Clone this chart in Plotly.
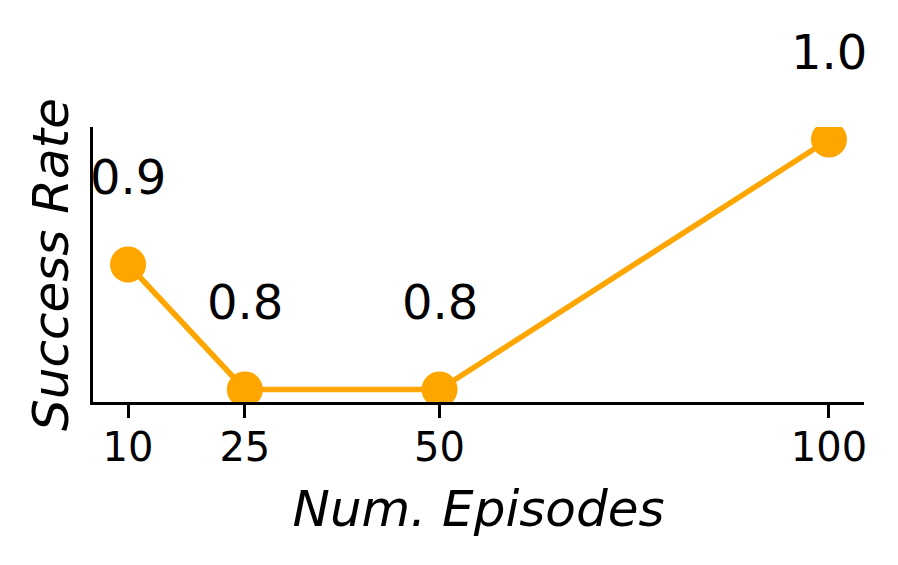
import plotly.graph_objects as go

# episodes vs success rate
episodes = [10, 25, 50, 100]
success_rate = [0.9, 0.8, 0.8, 1.0]
tick_labels = ["10", "25", "50", "100"]

ORANGE = "#FFA500"
FONT = "DejaVu Sans"

fig = go.Figure()
fig.add_trace(go.Scatter(
    x=episodes, y=success_rate,
    mode="lines+markers",
    line=dict(color=ORANGE, width=5.5),
    marker=dict(color=ORANGE, size=36),
    cliponaxis=True,
    hoverinfo="x+y",
))

# value labels above each point
for xv, yv in zip(episodes, success_rate):
    fig.add_annotation(
        x=xv, y=yv, xref="x", yref="y",
        text=f"{yv:.1f}", showarrow=False,
        yshift=88, font=dict(family=FONT, size=48, color="black"),
    )

fig.update_xaxes(
    range=[5.5, 104.5],
    tickvals=episodes, ticktext=tick_labels,
    ticks="outside", ticklen=13, tickwidth=3, tickcolor="black",
    ticklabelstandoff=-5,
    showline=True, linewidth=3, linecolor="black",
    showgrid=False, zeroline=False,
    tickfont=dict(family=FONT, size=40, color="black"),
    title=dict(text="Num. Episodes", standoff=22,
               font=dict(family=FONT, size=50, color="black", style="italic")),
)
fig.update_yaxes(
    range=[0.79, 1.01],
    showticklabels=False, ticks="",
    showline=True, linewidth=3, linecolor="black",
    showgrid=False, zeroline=False,
    title=dict(text="Success Rate", standoff=6,
               font=dict(family=FONT, size=50, color="black", style="italic")),
)

# the page body adds an 8px offset, so margins are shifted to compensate
fig.update_layout(
    width=898, height=565,
    margin=dict(l=85, r=42, t=119, b=171),
    plot_bgcolor="white", paper_bgcolor="white",
    showlegend=False,
)

fig.write_html("out.html")
